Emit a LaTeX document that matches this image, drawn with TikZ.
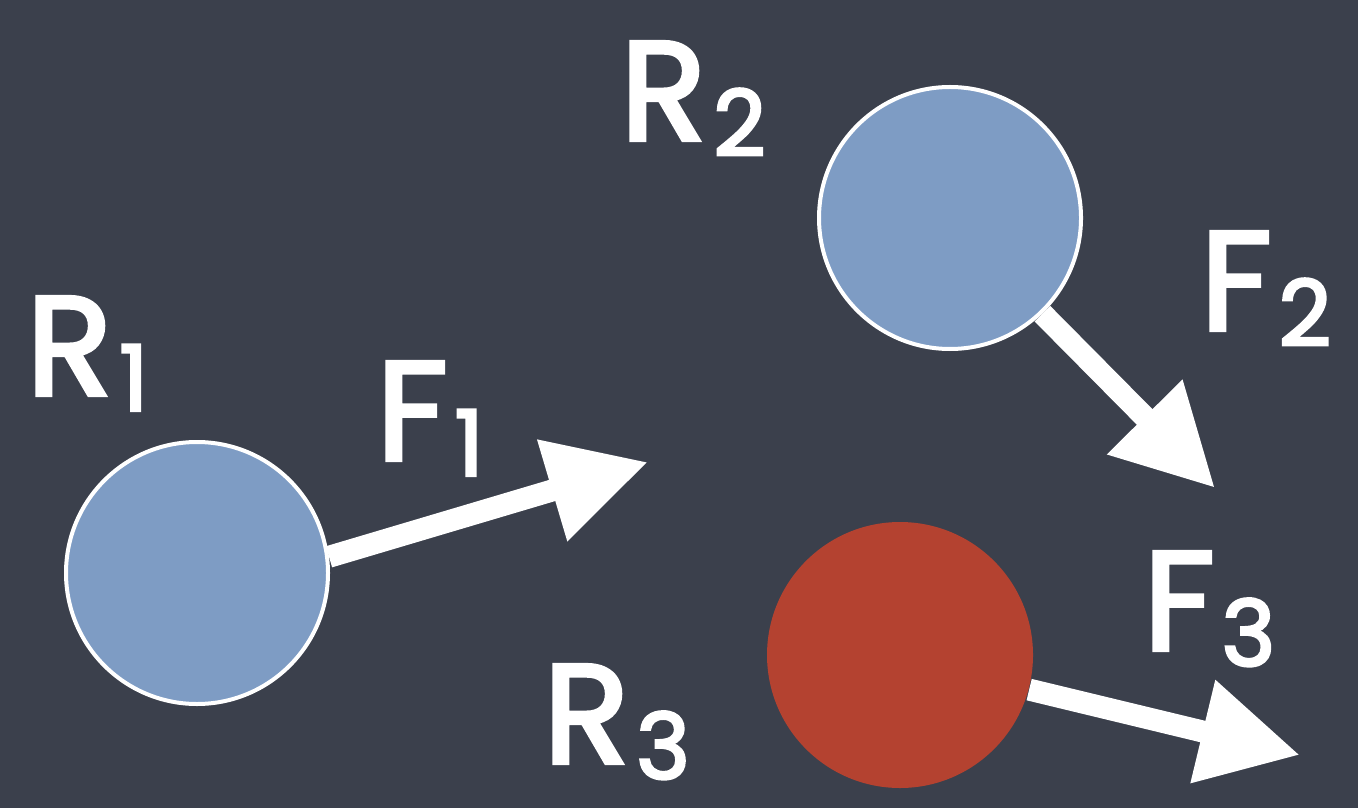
\documentclass[tikz,border=0pt]{standalone}
\usepackage{fontspec}
\newfontfamily\chalkfont{Poppins}[FakeBold=3]
\usetikzlibrary{arrows.meta}

\definecolor{slate}{RGB}{59,64,76}
\definecolor{ballblue}{RGB}{126,156,196}
\definecolor{ballred}{RGB}{180,66,48}

\newcommand{\symlab}[2]{#1\kern2pt\raisebox{-4.5pt}{\fontsize{26}{26}\selectfont #2}}

\begin{document}
\begin{tikzpicture}[
  bluebody/.style={circle, draw=white, line width=0.04cm, fill=ballblue, minimum size=2.62cm, inner sep=0pt},
  redbody/.style={circle, fill=ballred, minimum size=2.66cm, inner sep=0pt},
  push/.style={-{Triangle[width=1cm, length=1cm]}, line width=0.22cm, draw=white, fill=white},
  tag/.style={anchor=base west, inner sep=0pt, text=white, font=\chalkfont\fontsize{40}{40}\selectfont}
]

% background
\fill[slate] (0,0) rectangle (13.58,8.08);
\useasboundingbox (0,0) rectangle (13.58,8.08);

% --- bodies ---
\node[bluebody] (c1) at (1.97,2.35) {};
\node[bluebody] (c2) at (9.50,5.90) {};
\node[redbody] (c3) at (9.00,1.53) {};

% --- force tips ---
\coordinate (f1tip) at (6.48,3.46);
\coordinate (f2tip) at (12.15,3.20);
\coordinate (f3tip) at (13.00,0.53);

\draw[push] (c1.7) -- (f1tip);
\draw[push] (c2.-46) -- (f2tip);
\draw[push] (c3.-15) -- (f3tip);

% --- labels ---
\node[tag] (r1lab) at (0.26,4.13) {\symlab{R}{1}};
\node[tag] (f1lab) at (3.76,3.48) {\symlab{F}{1}};
\node[tag] (r2lab) at (6.20,6.68) {\symlab{R}{2}};
\node[tag] (f2lab) at (12.00,4.78) {\symlab{F}{2}};
\node[tag] (f3lab) at (11.43,1.58) {\symlab{F}{3}};
\node[tag] (r3lab) at (5.43,0.45) {\symlab{R}{3}};

\end{tikzpicture}
\end{document}
